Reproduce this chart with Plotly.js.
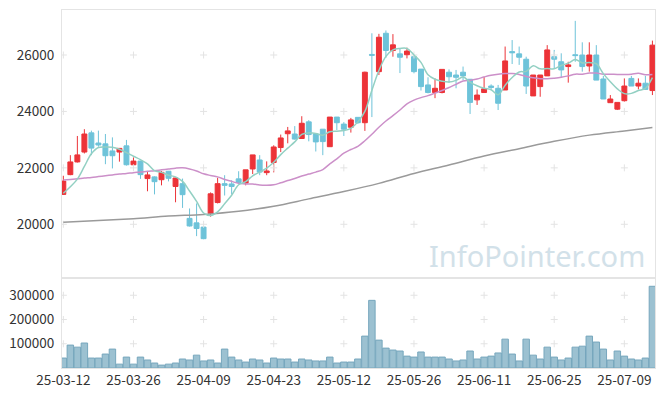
<!DOCTYPE html>
<html>
<head>
<meta charset="utf-8">
<script src="https://cdn.plot.ly/plotly-3.0.1.min.js"></script>
<style>html,body{margin:0;padding:0;background:#fff;}#chart{width:665px;height:396px;}</style>
</head>
<body>
<div id="chart"></div>
<script>
const dates = [
 '25-03-12','25-03-13','25-03-14','25-03-17','25-03-18','25-03-19','25-03-20','25-03-21','25-03-24','25-03-25',
 '25-03-26','25-03-27','25-03-28','25-03-31','25-04-01','25-04-02','25-04-03','25-04-04','25-04-07','25-04-08',
 '25-04-09','25-04-10','25-04-11','25-04-14','25-04-15','25-04-16','25-04-17','25-04-18','25-04-21','25-04-22',
 '25-04-23','25-04-24','25-04-25','25-04-28','25-04-29','25-04-30','25-05-02','25-05-07','25-05-08','25-05-09',
 '25-05-12','25-05-13','25-05-14','25-05-15','25-05-16','25-05-19','25-05-20','25-05-21','25-05-22','25-05-23',
 '25-05-26','25-05-27','25-05-28','25-05-29','25-05-30','25-06-02','25-06-04','25-06-05','25-06-09','25-06-10',
 '25-06-11','25-06-12','25-06-13','25-06-16','25-06-17','25-06-18','25-06-19','25-06-20','25-06-23','25-06-24',
 '25-06-25','25-06-26','25-06-27','25-06-30','25-07-01','25-07-02','25-07-03','25-07-04','25-07-07','25-07-08',
 '25-07-09','25-07-10','25-07-11','25-07-14','25-07-15'
];
const open = [
 21060,21760,22210,22560,23240,22880,22850,22600,22560,22780,
 22110,22240,21620,21680,21580,21880,21340,21440,20210,20050,
 19900,20390,20770,21440,21430,21610,21460,21960,22280,21830,
 22190,22720,23210,23200,23040,23630,23200,23370,22750,23800,
 23550,23440,23790,23600,26020,25410,26770,26160,26040,26010,
 25940,25500,24940,24670,24670,25390,25290,25390,25140,24410,
 24670,24900,24820,24760,26120,26040,25850,24550,24880,25260,
 25940,25760,25590,26010,26000,25610,26000,25150,24310,24080,
 24380,25170,24900,25000,24740
];
const high = [
 21720,22450,23130,23370,23320,23320,23200,23080,22700,22990,
 22370,22250,21850,21700,21890,21890,21650,21620,20560,20740,
 19940,21130,21650,21740,21560,21880,21930,22460,22450,22230,
 22800,23180,23450,23480,23830,23690,23200,23370,23800,23800,
 23620,23770,23790,25410,26770,26750,26870,26740,26240,26260,
 25940,25500,25210,25170,25490,25490,25470,25590,25140,24780,
 25230,24960,24940,26300,26530,26300,25940,25290,25290,26350,
 26180,26060,25760,27210,26450,26450,26350,25260,24580,24320,
 25170,25260,25170,25260,26510
];
const low = [
 21040,21740,22190,22510,22450,22750,22130,21980,22220,22080,
 22070,21610,21170,21060,21380,21520,20780,20580,19920,19580,
 19470,20270,20740,21020,21060,21420,21380,21780,21740,21740,
 21840,22560,22870,23000,23040,22940,22580,22450,22750,23340,
 23130,23250,23560,23310,23800,25290,25900,25940,25360,25880,
 25350,24740,24640,24470,24640,25020,24820,25110,23910,24230,
 24660,24780,24050,24760,25680,25650,24620,24550,24520,25260,
 25530,25210,25020,25760,25410,25410,25110,24440,24310,24050,
 24350,24900,24780,24760,24580
];
const close = [
 21530,22210,22460,23200,22700,22810,22430,22430,22690,22110,
 22240,21760,21750,21510,21840,21630,21640,21050,19940,19850,
 19490,21080,21440,21380,21340,21480,21930,22460,21850,21890,
 22740,23060,23310,23020,23580,23180,22920,22930,23800,23600,
 23370,23700,23600,25390,25990,26630,26160,26360,25920,26140,
 25410,24880,24670,24820,25490,25230,25210,25260,24320,24580,
 24800,24850,24290,25790,26080,25920,24900,25290,25290,26180,
 25850,25470,25650,25980,25590,26000,25110,24440,24440,24320,
 24900,24900,25000,24780,26350
];
const volume = [
 41000,94500,86000,103000,41000,41000,57500,78000,16000,45000,
 16000,45000,33000,20500,12000,16000,20500,37000,33000,53000,
 29000,33000,20500,78000,45000,33000,24500,37000,33000,20500,
 41000,37000,37000,24500,37000,33000,29000,29000,45000,20500,
 24500,24500,37000,131500,279000,115000,82000,74000,70000,49000,
 45000,66000,45000,45000,45000,37000,29000,33000,70000,37000,
 45000,49000,62000,119000,57500,29000,119000,53000,37000,86000,
 45000,33000,41000,86000,90000,131500,107000,78000,33000,70000,
 49000,37000,33000,41000,337000
];
const ma5 = [
 21100,21330,21600,22050,22500,22720,22740,22730,22660,22540,
 22410,22290,22140,21900,21840,21740,21680,21520,21180,20810,
 20400,20310,20440,20730,21030,21400,21510,21720,21850,21990,
 22200,22470,22700,22920,23190,23240,23220,23160,23280,23300,
 23320,23400,23630,24000,24750,25450,25950,26180,26230,26230,
 26000,25740,25300,25140,25070,25040,25100,25220,25040,24910,
 24820,24770,24590,24930,25200,25400,25420,25620,25510,25520,
 25510,25630,25710,25840,25720,25730,25690,25340,25050,24800,
 24630,24640,24740,24820,25200
];
const ma20 = [
 21570,21590,21610,21640,21660,21690,21720,21750,21780,21800,
 21830,21850,21880,21900,21930,21960,21990,22000,21960,21890,
 21790,21730,21680,21590,21520,21450,21430,21430,21390,21380,
 21400,21470,21550,21620,21710,21780,21850,21940,22140,22320,
 22520,22650,22760,22960,23190,23440,23660,23850,24050,24270,
 24400,24490,24560,24650,24740,24850,24960,25080,25100,25150,
 25220,25280,25320,25340,25340,25310,25240,25190,25160,25160,
 25180,25210,25260,25320,25320,25360,25360,25320,25320,25310,
 25310,25320,25350,25300,25310
];
const ma120Dates = ['25-03-12','25-03-19','25-03-26','25-04-02','25-04-09','25-04-16','25-04-23','25-04-30','25-05-12',
 '25-05-19','25-05-26','25-06-02','25-06-11','25-06-18','25-06-25','25-07-02','25-07-09','25-07-15'];
const ma120 = [20070,20130,20200,20290,20350,20460,20640,20900,21160,21450,21800,22100,22420,22680,22940,23160,23310,23430];

const xTicks = ['25-03-12','25-03-26','25-04-09','25-04-23','25-05-12','25-05-26','25-06-11','25-06-25','25-07-09'];
const priceTicks = [20000,22000,24000,26000];
const volTicks = [100000,200000,300000];

const tickFont = {family:'"Noto Sans CJK KR", "Noto Sans", sans-serif', size:13.5, color:'#333'};
const frame = '#e4e4e4';

function crosses(yvals, yaxis){
  const xs = [], ys = [];
  xTicks.forEach(d => yvals.forEach(v => { xs.push(d); ys.push(v); }));
  return {type:'scatter', mode:'markers', x:xs, y:ys, xaxis: yaxis==='y'?'x':'x2', yaxis:yaxis,
    marker:{symbol:'cross-thin', size:5, line:{width:1, color:'#e3e3e3'}}, hoverinfo:'skip'};
}

const traces = [
  crosses(priceTicks,'y'),
  crosses(volTicks,'y2'),
  {type:'bar', x:dates, y:volume, xaxis:'x2', yaxis:'y2',
   marker:{color:'#9cc1d1', line:{color:'#77a7bd', width:1}}, hoverinfo:'skip'},
  {type:'scatter', mode:'lines', x:ma120Dates, y:ma120, xaxis:'x', yaxis:'y',
   line:{color:'#9a9a9a', width:1.5, shape:'spline'}, hoverinfo:'skip'},
  {type:'scatter', mode:'lines', x:dates, y:ma20, xaxis:'x', yaxis:'y',
   line:{color:'#cc90c9', width:1.5, shape:'spline'}, hoverinfo:'skip'},
  {type:'scatter', mode:'lines', x:dates, y:ma5, xaxis:'x', yaxis:'y',
   line:{color:'#93d0c3', width:1.5, shape:'spline'}, hoverinfo:'skip'},
  {type:'candlestick', x:dates, open:open, high:high, low:low, close:close, xaxis:'x', yaxis:'y',
   increasing:{line:{color:'#ec3338', width:1}, fillcolor:'#ec3338'},
   decreasing:{line:{color:'#6ec3d9', width:1}, fillcolor:'#6ec3d9'},
   whiskerwidth:0, hoverinfo:'skip'}
];

const layout = {
  width:665, height:396,
  margin:{l:62, r:10, t:10, b:28, pad:0},
  paper_bgcolor:'#fff', plot_bgcolor:'#fff',
  showlegend:false, hovermode:false, bargap:0.08, boxgap:0.3, boxgroupgap:0,
  xaxis:{type:'category', categoryorder:'array', categoryarray:dates, range:[-0.19,84.37],
    anchor:'y', showticklabels:false, showgrid:false, zeroline:false,
    showline:true, mirror:true, linecolor:frame, linewidth:1, ticks:'', rangeslider:{visible:false}, fixedrange:true},
  xaxis2:{type:'category', categoryorder:'array', categoryarray:dates, matches:'x', anchor:'y2',
    tickmode:'array', tickvals:xTicks, ticktext:xTicks, tickfont:tickFont, showgrid:false, zeroline:false,
    showline:true, mirror:true, linecolor:frame, linewidth:1, ticks:'', tickangle:0},
  yaxis:{domain:[0.2506,1], range:[18086,27595], tickmode:'array', tickvals:priceTicks, tickformat:'d',
    tickfont:tickFont, showgrid:false, zeroline:false, showline:true, mirror:true, linecolor:frame, linewidth:1,
    ticks:'outside', ticklen:4, tickcolor:'rgba(0,0,0,0)'},
  yaxis2:{domain:[0,0.2506], range:[0,370000], tickmode:'array', tickvals:volTicks, tickformat:'d',
    tickfont:tickFont, showgrid:false, zeroline:false, showline:true, mirror:true, linecolor:frame, linewidth:1,
    ticks:'outside', ticklen:4, tickcolor:'rgba(0,0,0,0)'},
  annotations:[{text:'InfoPointer.com', xref:'paper', yref:'paper', x:0.9865, y:0.3156,
    xanchor:'right', yanchor:'middle', showarrow:false,
    font:{family:'"Noto Sans", sans-serif', size:29, color:'#d2e1e9'}}]
};

Plotly.newPlot('chart', traces, layout, {staticPlot:true, displayModeBar:false});
</script>
</body>
</html>
